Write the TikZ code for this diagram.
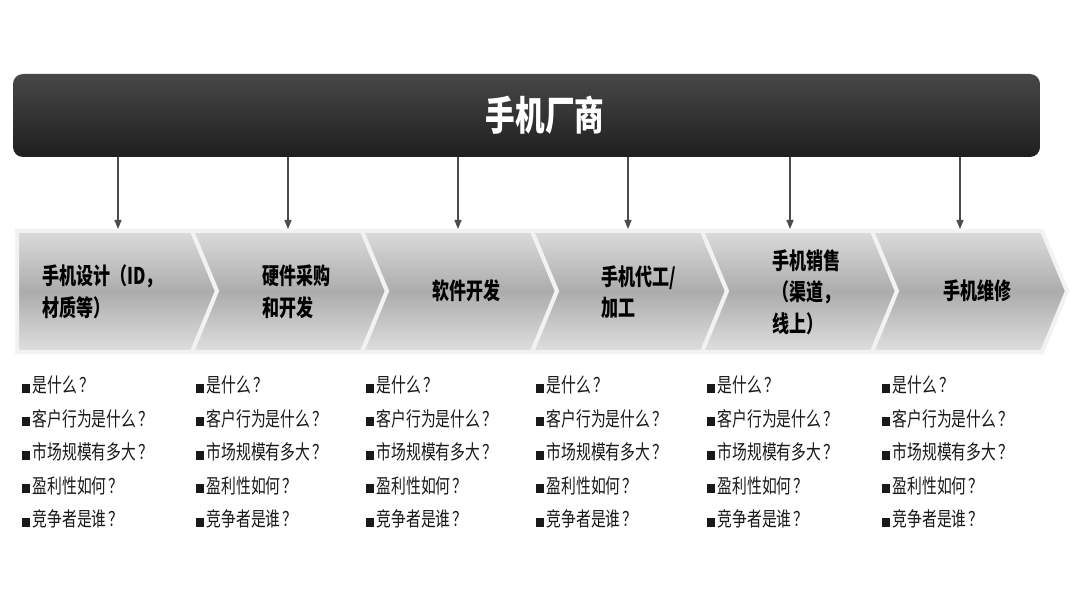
\documentclass[tikz,border=0pt]{standalone}
\usepackage{fontspec}
\setmainfont{Noto Sans CJK SC}[FakeStretch=0.74]
\usetikzlibrary{arrows.meta}
\newcommand{\sq}{\rule{7.5pt}{9pt}\hspace{3pt}}
\newcommand{\qm}{\hspace{2pt}？}
\newcommand{\asks}{\sq 是什么\qm\\\sq 客户行为是什么\qm\\\sq 市场规模有多大\qm\\\sq 盈利性如何\qm\\\sq 竞争者是谁\qm}
\tikzset{
  maker/.style={rounded corners=10pt, top color=black!72, bottom color=black!88, minimum width=1027pt, minimum height=83pt},
  title/.style={text=white, inner sep=0pt, font=\bfseries\fontsize{40}{44}\selectfont},
  chev/.style={draw=gray!10, line width=4pt, top color=gray!28, bottom color=gray!25, middle color=gray!65},
  stage/.style={anchor=west, align=left, inner sep=0pt, font=\bfseries\fontsize{23}{31.5}\selectfont},
  ask/.style={anchor=west, align=left, inner sep=0pt, text=black!90, font=\fontsize{20}{33.5}\selectfont},
  arr/.style={-{Triangle[length=9pt,width=7pt]}, draw=black!70, line width=1.2pt}
}
\begin{document}
\begin{tikzpicture}[x=1pt,y=-1pt]
\useasboundingbox[fill=white] (0,0) rectangle (1080,607);
\node[maker] (maker) at (526.5,115.5) {};
\node[title] (name) at (545,115) {手机厂商};
\draw[chev] (17,231) -- (192,231) -- (217,291) -- (192,352) -- (17,352) -- cycle;
\draw[chev] (192,231) -- (362,231) -- (387,291) -- (362,352) -- (192,352) -- (217,291) -- cycle;
\draw[chev] (362,231) -- (532,231) -- (557,291) -- (532,352) -- (362,352) -- (387,291) -- cycle;
\draw[chev] (532,231) -- (702,231) -- (727,291) -- (702,352) -- (532,352) -- (557,291) -- cycle;
\draw[chev] (702,231) -- (872,231) -- (897,291) -- (872,352) -- (702,352) -- (727,291) -- cycle;
\draw[chev] (872,231) -- (1042,231) -- (1067,291) -- (1042,352) -- (872,352) -- (897,291) -- cycle;
\coordinate (c1) at (118,229);
\coordinate (c2) at (288,229);
\coordinate (c3) at (458,229);
\coordinate (c4) at (628,229);
\coordinate (c5) at (790,229);
\coordinate (c6) at (960,229);
\draw[arr] (maker.south -| c1) -- (c1);
\draw[arr] (maker.south -| c2) -- (c2);
\draw[arr] (maker.south -| c3) -- (c3);
\draw[arr] (maker.south -| c4) -- (c4);
\draw[arr] (maker.south -| c5) -- (c5);
\draw[arr] (maker.south -| c6) -- (c6);
\node[stage] (s1) at (42,292) {手机设计（ID，\\材质等）};
\node[stage] (s2) at (262,292) {硬件采购\\和开发};
\node[stage] (s3) at (432,291) {软件开发};
\node[stage] (s4) at (601,292) {手机代工/\\加工};
\node[stage] (s5) at (772,292) {手机销售\\（渠道，\\线上）};
\node[stage] (s6) at (943,291) {手机维修};
\node[ask] (q1) at (22,452) {\asks};
\node[ask] (q2) at (196,452) {\asks};
\node[ask] (q3) at (366,452) {\asks};
\node[ask] (q4) at (536,452) {\asks};
\node[ask] (q5) at (707,452) {\asks};
\node[ask] (q6) at (882,452) {\asks};
\end{tikzpicture}
\end{document}
